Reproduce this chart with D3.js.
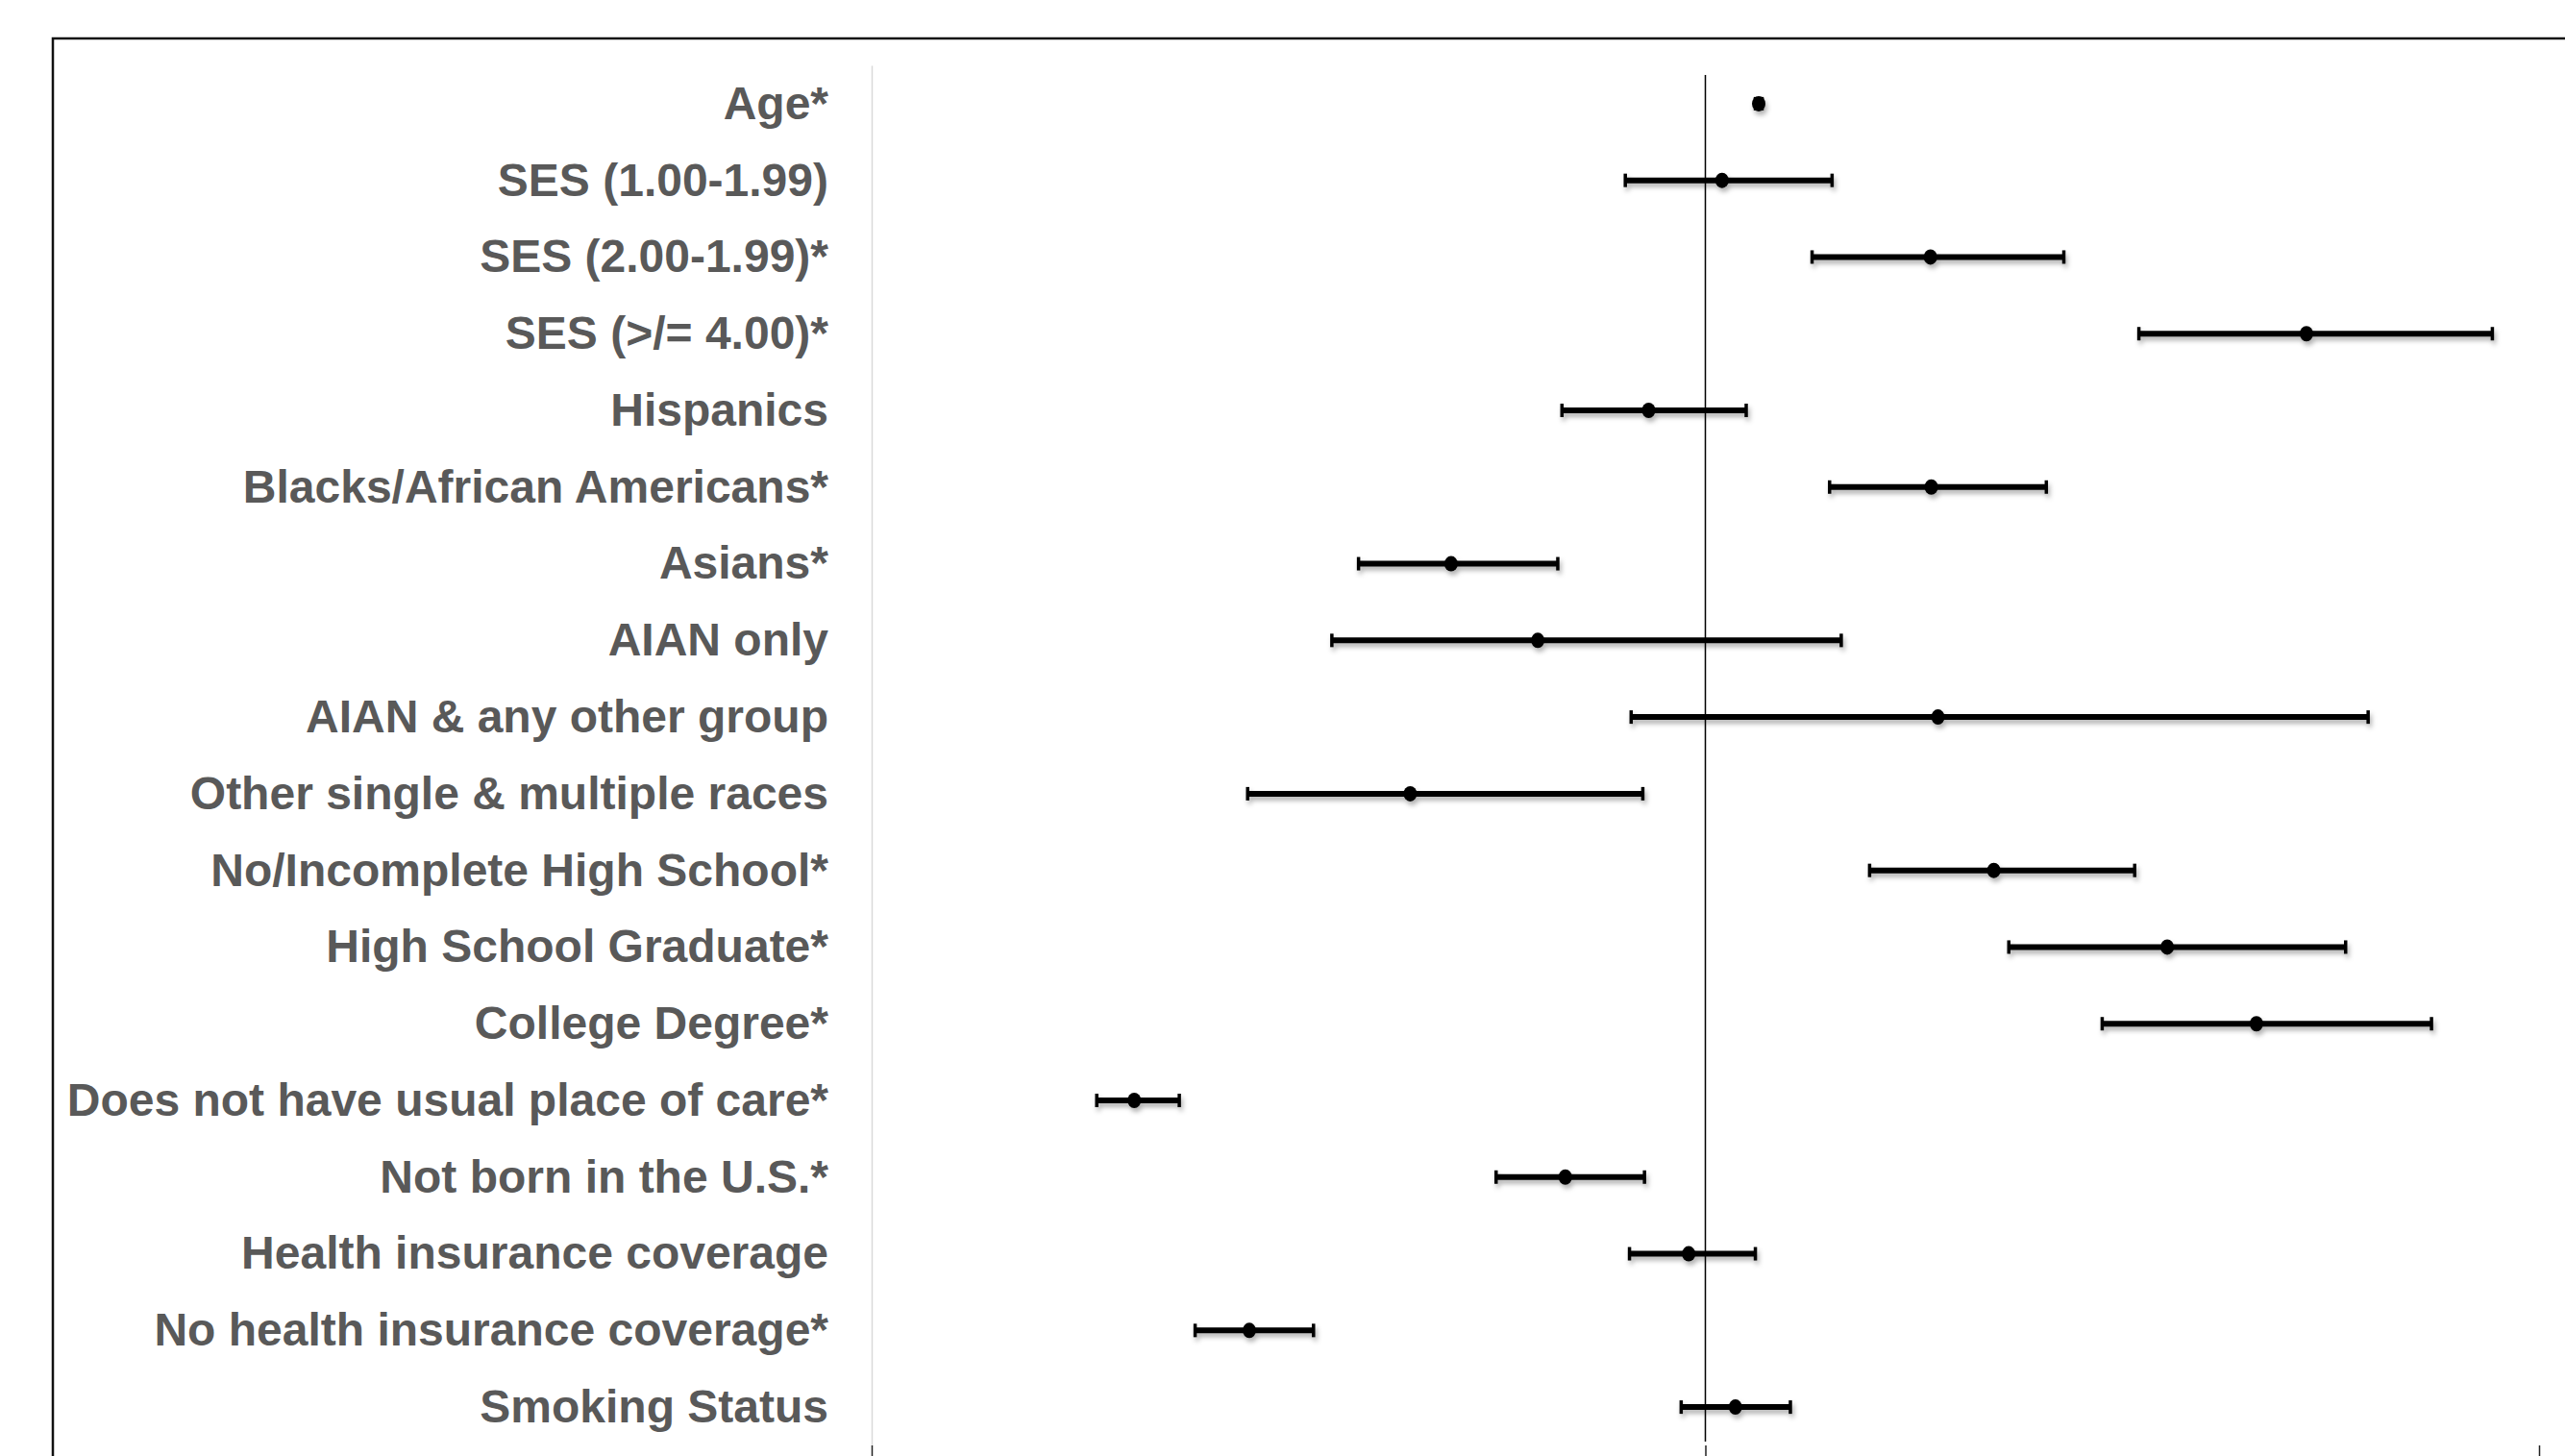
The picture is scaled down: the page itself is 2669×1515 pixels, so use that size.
<!DOCTYPE html>
<html>
<head>
<meta charset="utf-8">
<script src="https://cdn.jsdelivr.net/npm/d3@7"></script>
<style>
  body { margin: 0; background: #fff; overflow: hidden; }
  .label text { font-family: "Liberation Sans", Arial, Helvetica, sans-serif; font-weight: bold; font-size: 48px; fill: #595959; }
</style>
</head>
<body>
<div id="chart"></div>
<script>
// categories, top to bottom
const categories = [
    "Age*",
    "SES (1.00-1.99)",
    "SES (2.00-1.99)*",
    "SES (>/= 4.00)*",
    "Hispanics",
    "Blacks/African Americans*",
    "Asians*",
    "AIAN only",
    "AIAN & any other group",
    "Other single & multiple races",
    "No/Incomplete High School*",
    "High School Graduate*",
    "College Degree*",
    "Does not have usual place of care*",
    "Not born in the U.S.*",
    "Health insurance coverage",
    "No health insurance coverage*",
    "Smoking Status"
];

// odds ratios and 95% CI
const oddsRatio = [1.064, 1.020, 1.270, 1.721, 0.932, 1.271, 0.695, 0.799, 1.279,
                   0.646, 1.346, 1.554, 1.661, 0.315, 0.832, 0.980, 0.453, 1.036];
const ciLower   = [1.060, 0.904, 1.128, 1.520, 0.828, 1.149, 0.584, 0.552, 0.911,
                   0.451, 1.197, 1.364, 1.476, 0.270, 0.749, 0.909, 0.388, 0.971];
const ciUpper   = [1.068, 1.152, 1.430, 1.944, 1.049, 1.409, 0.823, 1.163, 1.795,
                   0.925, 1.515, 1.768, 1.871, 0.369, 0.927, 1.060, 0.530, 1.102];

const xTicks = [0, 1, 2];
const refValue = 1;

const rows = categories.map(function(c, i) {
    return {name: c, or: oddsRatio[i], lo: ciLower[i], hi: ciUpper[i]};
});

const W = 2669, H = 1515;
const plot = {left: 907, right: 2642, top: 68, bottom: 1504};

const svg = d3.select("#chart")
    .append("svg")
    .attr("width", W)
    .attr("height", H);

const defs = svg.append("defs");
defs.append("filter")
    .attr("id", "shadow")
    .attr("x", "-20%").attr("y", "-100%")
    .attr("width", "140%").attr("height", "300%")
    .append("feDropShadow")
    .attr("dx", 2).attr("dy", 4)
    .attr("stdDeviation", 2.5)
    .attr("flood-color", "#000")
    .attr("flood-opacity", 0.3);

// outer frame of the figure
svg.append("rect")
    .attr("x", 55).attr("y", 40)
    .attr("width", W).attr("height", H)
    .attr("fill", "none")
    .attr("stroke", "#111")
    .attr("stroke-width", 2.5);

var x = d3.scaleLinear()
    .domain([0, 2])
    .range([plot.left, plot.right]);

var y = d3.scaleBand()
    .domain(categories)
    .range([plot.top, plot.bottom])
    .padding(0);

// category axis
var yAxis = d3.axisLeft(y).tickSize(0).tickPadding(45);
var gy = svg.append("g")
    .attr("class", "label")
    .attr("transform", `translate(${plot.left}, 0)`)
    .call(yAxis);
gy.select(".domain").attr("stroke", "#d9d9d9").attr("stroke-width", 1.5);
gy.selectAll("text").attr("dy", "0.33em");

// value axis
var xAxis = d3.axisBottom(x)
    .tickValues(xTicks)
    .tickSize(14)
    .tickSizeOuter(0)
    .tickFormat(function() { return ""; });
var gx = svg.append("g")
    .attr("transform", `translate(0, ${plot.bottom})`)
    .call(xAxis);
gx.select(".domain")
    .attr("stroke", "#333")
    .attr("stroke-width", 3.5)
    .attr("filter", "url(#shadow)");
gx.selectAll(".tick line").attr("stroke", "#222").attr("stroke-width", 1.5);

// reference line at OR = 1
svg.append("line")
    .attr("x1", x(refValue)).attr("x2", x(refValue))
    .attr("y1", plot.top + 10).attr("y2", plot.bottom - 4)
    .attr("stroke", "#000")
    .attr("stroke-width", 1.5);

// draw data
var marks = svg.append("g")
    .attr("filter", "url(#shadow)")
    .selectAll("g")
    .data(rows)
    .join("g")
    .attr("transform", function(d) { return `translate(0, ${y(d.name) + y.bandwidth() / 2})`; });

marks.append("line")
    .attr("x1", function(d) { return x(d.lo); })
    .attr("x2", function(d) { return x(d.hi); })
    .attr("stroke", "#000")
    .attr("stroke-width", 6);

marks.selectAll(".cap")
    .data(function(d) { return [d.lo, d.hi]; })
    .join("line")
    .attr("class", "cap")
    .attr("x1", function(v) { return x(v); })
    .attr("x2", function(v) { return x(v); })
    .attr("y1", -7).attr("y2", 7)
    .attr("stroke", "#000")
    .attr("stroke-width", 3.5);

marks.append("ellipse")
    .attr("cx", function(d) { return x(d.or); })
    .attr("rx", 7)
    .attr("ry", 8)
    .attr("fill", "#000");
</script>
</body>
</html>
